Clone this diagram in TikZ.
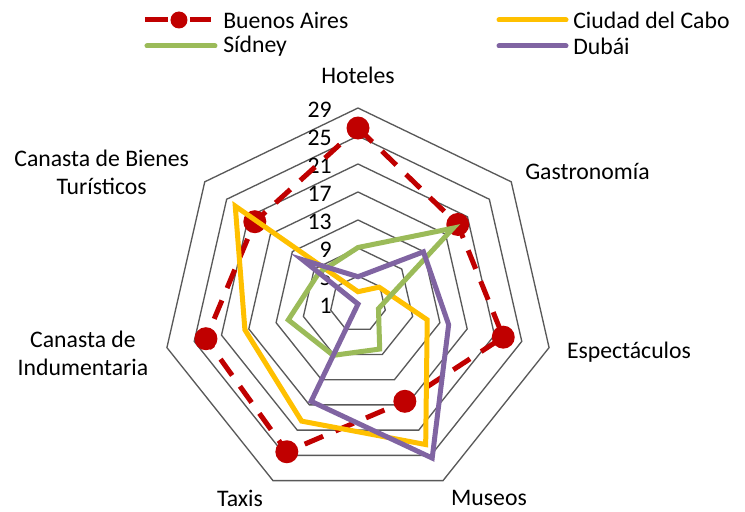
\documentclass[tikz,border=0pt]{standalone}
\usepackage{fontspec}
\setmainfont{Carlito}
\definecolor{baRed}{HTML}{C00000}
\definecolor{capeGold}{HTML}{FFC000}
\definecolor{sydGreen}{HTML}{9BBB59}
\definecolor{dubPurple}{HTML}{8064A2}
\definecolor{ringGray}{HTML}{595959}
\begin{document}
\begin{tikzpicture}[x=0.75pt,y=0.75pt,
    every node/.style={font=\fontsize{17.8}{21.5}\selectfont,inner sep=0pt,align=center},
    ring/.style={draw=ringGray,line width=1pt,line join=miter},
    series/.style={line width=3.75pt,line join=miter},
    badash/.style={series,draw=baRed,dash pattern=on 15pt off 10pt},
    bamark/.style={fill=baRed,draw=none}]
  \useasboundingbox (-358,-207) rectangle (387,304);
  % rings
  \draw[ring] (90:28) -- (38.571:28) -- (-12.857:28) -- (-64.286:28) -- (-115.714:28) -- (-167.143:28) -- (141.429:28) -- cycle;
  \draw[ring] (90:56) -- (38.571:56) -- (-12.857:56) -- (-64.286:56) -- (-115.714:56) -- (-167.143:56) -- (141.429:56) -- cycle;
  \draw[ring] (90:84) -- (38.571:84) -- (-12.857:84) -- (-64.286:84) -- (-115.714:84) -- (-167.143:84) -- (141.429:84) -- cycle;
  \draw[ring] (90:112) -- (38.571:112) -- (-12.857:112) -- (-64.286:112) -- (-115.714:112) -- (-167.143:112) -- (141.429:112) -- cycle;
  \draw[ring] (90:140) -- (38.571:140) -- (-12.857:140) -- (-64.286:140) -- (-115.714:140) -- (-167.143:140) -- (141.429:140) -- cycle;
  \draw[ring] (90:168) -- (38.571:168) -- (-12.857:168) -- (-64.286:168) -- (-115.714:168) -- (-167.143:168) -- (141.429:168) -- cycle;
  \draw[ring] (90:196) -- (38.571:196) -- (-12.857:196) -- (-64.286:196) -- (-115.714:196) -- (-167.143:196) -- (141.429:196) -- cycle;
  % scale
  \node[anchor=east] (v1) at (-26,-2) {1};
  \node[anchor=east] (v5) at (-26,26) {5};
  \node[anchor=east] (v9) at (-26,54) {9};
  \node[anchor=east] (v13) at (-26,82) {13};
  \node[anchor=east] (v17) at (-26,110) {17};
  \node[anchor=east] (v21) at (-26,138) {21};
  \node[anchor=east] (v25) at (-26,166) {25};
  \node[anchor=east] (v29) at (-26,194) {29};
  % axis labels
  \node (hoteles) at (0,229) {Hoteles};
  \node (gastro) at (229.5,132.3) {Gastronomía};
  \node (espect) at (271,-47.7) {Espectáculos};
  \node (museos) at (131,-194) {Museos};
  \node (taxis) at (-118,-194) {Taxis};
  \node (indum) at (-275,-49.3) {Canasta de\\Indumentaria};
  \node (bienes) at (-256.3,131.7) {Canasta de Bienes\\Turísticos};
  % Buenos Aires
  \draw[badash] (90:176) -- (38.571:127.6) -- (-12.857:149) -- (-64.286:108) -- (-115.714:164) -- (-167.143:156) -- (141.429:132) -- cycle;
  \fill[bamark] (90:176) circle (11.5) (38.571:127.6) circle (11.5) (-12.857:149) circle (11.5)
    (-64.286:108) circle (11.5) (-115.714:164) circle (11.5) (-167.143:156) circle (11.5) (141.429:132) circle (11.5);
  % Ciudad del Cabo
  \draw[series,draw=capeGold] (90:12.3) -- (38.571:27) -- (-12.857:71) -- (-64.286:156) -- (-115.714:130) -- (-167.143:116) -- (141.429:157) -- cycle;
  % Sidney
  \draw[series,draw=sydGreen] (90:56.5) -- (38.571:121.7) -- (-12.857:21) -- (-64.286:50) -- (-115.714:57) -- (-167.143:71.5) -- (141.429:50) -- cycle;
  % Dubai
  \draw[series,draw=dubPurple] (90:27.3) -- (38.571:83.7) -- (-12.857:93) -- (-64.286:171) -- (-115.714:108) -- (-167.143:0) -- (141.429:71) -- cycle;
  % legend
  \draw[series,draw=baRed] (-213,284) -- (-190,284) (-168,284) -- (-147,284);
  \fill[bamark] (-179,284) circle (8.5);
  \node[anchor=west] (lgba) at (-135,284) {Buenos Aires};
  \draw[series,draw=sydGreen,line cap=round] (-211,258) -- (-143,258);
  \node[anchor=west] (lgsyd) at (-135,258) {Sídney};
  \draw[series,draw=capeGold,line cap=round] (141,284) -- (208,284);
  \node[anchor=west] (lgcape) at (215,284) {Ciudad del Cabo};
  \draw[series,draw=dubPurple,line cap=round] (141,258) -- (208,258);
  \node[anchor=west] (lgdub) at (215,258) {Dubái};
\end{tikzpicture}
\end{document}
